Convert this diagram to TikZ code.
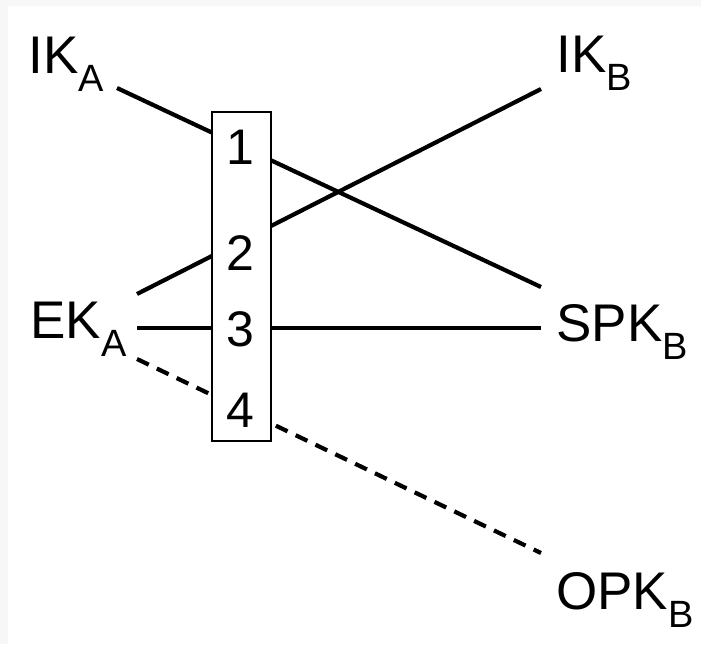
\documentclass[tikz,border=0pt]{standalone}
\usepackage{fontspec}
\setmainfont{Liberation Sans}
% key name with a lowered subscript letter
\newcommand\keyname[2]{#1\raisebox{-9pt}{\fontsize{19}{21}\selectfont #2}}
\begin{document}
\begin{tikzpicture}[x=0.5pt,y=-0.5pt,
  conn/.style={line width=2.1pt},
  optconn/.style={conn, dash pattern=on 6.5pt off 4.5pt},
  keylabel/.style={anchor=base west, inner sep=0pt, font=\fontsize{26.5}{30}\selectfont},
  slotbox/.style={draw, fill=white, line width=1.4pt, minimum width=29.5pt,
    minimum height=164.5pt, inner sep=0pt},
  slotnum/.style={font=\fontsize{25}{30}\selectfont, inner sep=0pt}]
% page background with a faint frame at the top and left
\fill[black!3] (0,0) rectangle (701,644);
\fill[white] (8,6) rectangle (701,644);
\useasboundingbox (0,0) rectangle (701,644);

% key labels
\node[keylabel] (ika)  at (28,73)   {\keyname{IK}{A}};
\node[keylabel] (eka)  at (30,338)  {\keyname{EK}{A}};
\node[keylabel] (ikb)  at (556,72)  {\keyname{IK}{B}};
\node[keylabel] (spkb) at (556,341) {\keyname{SPK}{B}};
\node[keylabel] (opkb) at (556,609) {\keyname{OPK}{B}};

% connector end points next to the labels
\coordinate (ika-out)  at (117,88);
\coordinate (eka-up)   at (137,294);
\coordinate (eka-mid)  at (137,328);
\coordinate (eka-down) at (137,359);
\coordinate (ikb-in)   at (541,89);
\coordinate (spkb-up)  at (541,287);
\coordinate (spkb-mid) at (541,328);
\coordinate (opkb-in)  at (541,553);

% Diffie-Hellman pairings
\draw[conn] (ika-out) -- (spkb-up);
\draw[conn] (eka-up) -- (ikb-in);
\draw[conn] (eka-mid) -- (spkb-mid);
\draw[optconn] (eka-down) -- (opkb-in);

% numbered box laid over the connectors
\node[slotbox] (slots) at (241.5,276.5) {};
\node[slotnum] (n1) at (240,147) {1};
\node[slotnum] (n2) at (240,253) {2};
\node[slotnum] (n3) at (240,329) {3};
\node[slotnum] (n4) at (240,410) {4};
\end{tikzpicture}
\end{document}
